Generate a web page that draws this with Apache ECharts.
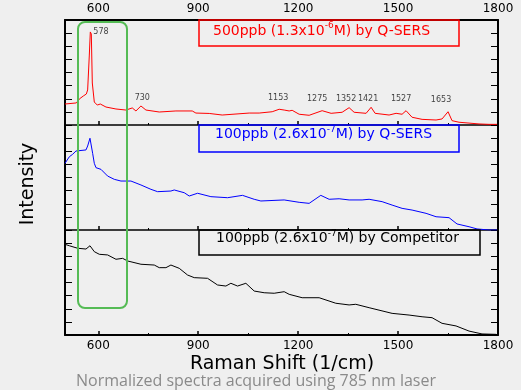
<!DOCTYPE html>
<html><head><meta charset="utf-8">
<script src="https://cdn.jsdelivr.net/npm/echarts@6/dist/echarts.min.js"></script>
<style>html,body{margin:0;padding:0;background:#efefef}#c{width:521px;height:390px}</style>
</head><body><div id="c"></div>
<script>
// ---- data ----
const xMin = 500, xMax = 1800;
const tickMajor = [600, 900, 1200, 1500, 1800];
const tickMinor = [750, 1050, 1350, 1650];

const shiftRed = [500,534,543,555,564,568,573,576,579,582,588,597,606,612,623,653,683,702,713,728,743,783,833,882,893,933,972,1053,1083,1122,1143,1158,1173,1182,1203,1233,1272,1299,1332,1353,1368,1404,1419,1431,1473,1494,1512,1524,1542,1572,1614,1632,1650,1662,1683,1743,1773,1797];
const intRed = [1.60,1.68,1.98,2.21,2.36,2.67,5.33,7.09,6.93,3.20,1.75,1.52,1.60,1.68,1.37,1.22,1.14,1.30,1.07,1.45,1.14,0.99,1.07,1.07,0.91,0.88,0.76,0.91,0.91,1.01,1.20,1.14,1.07,1.12,0.82,0.74,1.09,0.89,0.97,1.32,0.97,0.89,1.35,0.89,0.76,0.89,0.82,1.09,0.59,0.43,0.38,0.46,1.01,0.33,0.21,0.08,0.05,0.05];

const shiftBlue = [500,513,523,533,563,568,575,578,583,588,593,608,628,648,668,698,728,758,778,818,828,858,873,898,938,988,1033,1068,1088,1158,1203,1233,1268,1293,1323,1353,1392,1413,1452,1482,1512,1542,1584,1614,1653,1677,1713,1737,1773,1797];
const intBlue = [5.08,5.58,5.77,6.02,6.10,6.40,6.99,6.91,5.84,5.08,4.75,4.62,4.11,3.86,3.73,3.73,3.43,3.10,2.92,2.97,3.05,2.84,2.59,2.80,2.54,2.46,2.64,2.34,2.21,2.29,2.11,2.03,2.64,2.34,2.38,2.29,2.29,2.34,2.16,1.90,1.65,1.52,1.27,1.01,0.94,0.46,0.25,0.08,0.0,0.0];

const shiftBlack = [500,513,538,563,575,588,603,628,653,673,688,728,768,783,803,818,843,868,888,928,958,983,998,1018,1043,1068,1098,1128,1158,1173,1212,1263,1313,1353,1373,1413,1482,1533,1572,1602,1632,1674,1713,1752,1794];
const intBlack = [6.91,6.80,6.61,6.55,6.80,6.35,6.15,6.10,5.77,5.84,5.64,5.39,5.33,5.13,5.13,5.33,5.08,4.57,4.37,4.32,3.81,3.73,3.94,3.73,3.94,3.35,3.22,3.18,3.30,3.10,2.84,2.84,2.42,2.29,2.34,2.08,1.65,1.52,1.39,1.32,0.89,0.69,0.30,0.08,0.05];

const peakNames = ['578','730','1153','1275','1352','1421','1527','1653'];
const peakLabelX = [608,732,1140,1257,1344,1410,1509,1629];
const peakLabelY = [7.11,2.06,2.06,1.98,1.98,1.98,1.98,1.90];

const legendTexts = [
  ['500ppb (1.3x10', '-6', 'M) by Q-SERS'],
  ['100ppb (2.6x10', '-7', 'M) by Q-SERS'],
  ['100ppb (2.6x10', '-7', 'M) by Competitor']
];
const xAxisTitle = 'Raman Shift (1/cm)';
const yAxisTitle = 'Intensity';
const caption = 'Normalized spectra acquired using 785 nm laser';

// ---- chart ----
const FONT = 'DejaVu Sans';
const zip = (a, b) => a.map((v, i) => [v, b[i]]);
const panelTops = [20, 125, 230];
const panelH = 105;
const plainNum = v => String(v);

const grids = panelTops.map(t => ({left: 65, right: 23, top: t, height: panelH}));

const xAxes = [];
const yAxes = [];
for (let g = 0; g < 3; g++) {
  xAxes.push({
    type: 'value', gridIndex: g, position: 'bottom', min: xMin, max: xMax,
    axisLine: {show: true, onZero: false, lineStyle: {color: '#000', width: g === 2 ? 2 : 1.5}},
    axisTick: {show: true, inside: true, length: 4, customValues: tickMajor, lineStyle: {color: '#000', width: 1.5}},
    axisLabel: g === 2 ? {show: true, customValues: tickMajor, formatter: plainNum, margin: 5, color: '#000', fontFamily: FONT, fontSize: 12} : {show: false},
    splitLine: {show: false}
  });
  xAxes.push({
    type: 'value', gridIndex: g, position: 'bottom', min: xMin, max: xMax,
    axisLine: {show: false, onZero: false},
    axisTick: {show: true, inside: true, length: 2, customValues: tickMinor, lineStyle: {color: '#000', width: 1}},
    axisLabel: {show: false}, splitLine: {show: false}
  });
  ['left', 'right'].forEach(pos => {
    yAxes.push({
      type: 'value', gridIndex: g, position: pos, min: 0, max: 8, interval: 1,
      axisLine: {show: true, onZero: false, lineStyle: {color: '#000', width: 2}},
      axisTick: {show: true, inside: true, length: 7, lineStyle: {color: '#000', width: 1}},
      axisLabel: {show: false}, splitLine: {show: false}
    });
  });
}
// top axis of first panel, with labels
xAxes.push({
  type: 'value', gridIndex: 0, position: 'top', min: xMin, max: xMax,
  axisLine: {show: true, onZero: false, lineStyle: {color: '#000', width: 2}},
  axisTick: {show: false},
  axisLabel: {show: true, customValues: tickMajor, formatter: plainNum, margin: 5, color: '#000', fontFamily: FONT, fontSize: 12},
  splitLine: {show: false}
});

const lineSeries = (g, xs, ys, color) => ({
  type: 'line', xAxisIndex: g * 2, yAxisIndex: g * 2, data: zip(xs, ys),
  showSymbol: false, symbol: 'none', silent: true, animation: false,
  lineStyle: {color: color, width: 1}
});

const series = [
  lineSeries(0, shiftRed, intRed, '#ff0000'),
  lineSeries(1, shiftBlue, intBlue, '#0000ff'),
  lineSeries(2, shiftBlack, intBlack, '#000000'),
  {
    type: 'scatter', xAxisIndex: 0, yAxisIndex: 0, symbolSize: 0, silent: true, animation: false,
    data: peakNames.map((n, i) => ({name: n, value: [peakLabelX[i], peakLabelY[i]]})),
    label: {show: true, position: 'inside', formatter: '{b}', color: '#111', fontFamily: FONT, fontSize: 8},
    z: 10
  }
];

const legendBoxes = [
  {x: 199, y: 20, w: 260, h: 26, color: '#ff0000', ty: 31, tx: 213},
  {x: 199, y: 125, w: 260, h: 27, color: '#0000ff', ty: 134.5, tx: 215},
  {x: 199, y: 230, w: 281, h: 25, color: '#000000', ty: 238.5, tx: 216}
];

const graphics = [];
legendBoxes.forEach((b, i) => {
  graphics.push({type: 'rect', shape: {x: b.x, y: b.y, width: b.w, height: b.h},
    style: {fill: 'none', stroke: b.color, lineWidth: 1.5}, z: 20, silent: true});
  const t = legendTexts[i];
  graphics.push({type: 'text', x: b.tx, y: b.ty, z: 21, silent: true,
    style: {
      text: '{n|' + t[0] + '}{s|' + t[1] + '}{n|' + t[2] + '}',
      verticalAlign: 'middle', align: 'left',
      rich: {
        n: {fontFamily: FONT, fontSize: 14, lineHeight: 19, fill: b.color, color: b.color},
        s: {fontFamily: FONT, fontSize: 9, lineHeight: 9, verticalAlign: 'top', fill: b.color, color: b.color}
      }
    }});
});
graphics.push({type: 'rect', shape: {x: 78, y: 22, width: 49, height: 286, r: 7},
  style: {fill: 'none', stroke: '#55bb55', lineWidth: 2}, z: 25, silent: true});
graphics.push({type: 'text', x: 28, y: 184, rotation: Math.PI / 2, z: 20, silent: true,
  style: {text: yAxisTitle, fontFamily: FONT, fontSize: 19, fill: '#000', align: 'center', verticalAlign: 'middle'}});
graphics.push({type: 'text', x: 282, y: 364, z: 20, silent: true,
  style: {text: xAxisTitle, fontFamily: FONT, fontSize: 19, fill: '#000', align: 'center', verticalAlign: 'middle'}});
graphics.push({type: 'text', x: 256, y: 381, z: 20, silent: true,
  style: {text: caption, fontFamily: 'Open Sans', fontSize: 16, fill: '#8a8a8a', align: 'center', verticalAlign: 'middle'}});

const chart = echarts.init(document.getElementById('c'), null, {renderer: 'canvas'});
chart.setOption({
  backgroundColor: '#efefef',
  animation: false,
  grid: grids,
  xAxis: xAxes,
  yAxis: yAxes,
  series: series,
  graphic: graphics
});
</script>
</body></html>
